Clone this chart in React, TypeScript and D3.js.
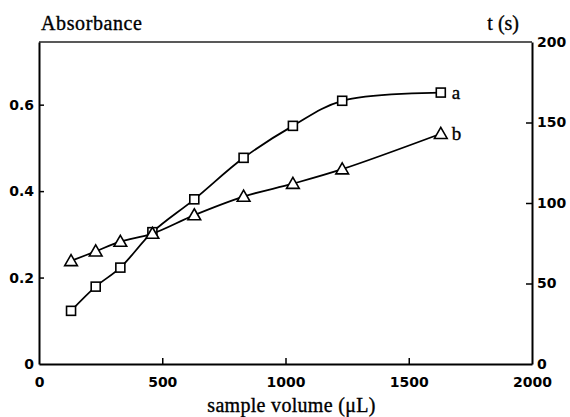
import React, { useRef, useEffect } from "react";
import * as d3 from "d3";

const volumes = [130, 230, 330, 460, 630, 830, 1030, 1230, 1630];
const absorbanceA = [0.123, 0.179, 0.223, 0.305, 0.381, 0.477, 0.551, 0.609, 0.628];
const timeB = [64, 70, 76, 81, 92.5, 104, 112, 121, 143];
const xTicks = [0, 500, 1000, 1500, 2000];
const leftTicks = [0, 0.2, 0.4, 0.6];
const rightTicks = [0, 50, 100, 150, 200];

const App = () => {
  const svgRef = useRef<SVGSVGElement>(null);

  useEffect(() => {
    const svg = d3.select(svgRef.current);
    svg.selectAll("*").remove();

    const margin = { top: 42, right: 38, bottom: 53, left: 39 };
    const width = 570;
    const height = 417;
    const innerWidth = width - margin.left - margin.right;
    const innerHeight = height - margin.top - margin.bottom;

    const x = d3.scaleLinear().domain([0, 2000]).range([0, innerWidth]);
    const yLeft = d3.scaleLinear().domain([0, 0.745]).range([innerHeight, 0]);
    const yRight = d3.scaleLinear().domain([0, 200]).range([innerHeight, 0]);

    const g = svg
      .append("g")
      .attr("transform", `translate(${margin.left}, ${margin.top})`);

    const tickFont = "'DejaVu Sans', Arial, sans-serif";
    const serif = "'Liberation Serif', 'Times New Roman', serif";

    // frame top
    g.append("line")
      .attr("x1", 0).attr("x2", innerWidth).attr("y1", 0).attr("y2", 0)
      .attr("stroke", "#222").attr("stroke-width", 1.5);

    const styleAxis = (sel) => {
      sel.select(".domain").attr("stroke", "#000").attr("stroke-width", 2);
      sel.selectAll(".tick line").attr("stroke", "#000").attr("stroke-width", 1.5);
      sel
        .selectAll(".tick text")
        .attr("font-family", tickFont)
        .attr("font-weight", "bold")
        .attr("font-size", 14)
        .attr("fill", "#000");
    };

    // bottom axis
    g.append("g")
      .attr("transform", `translate(0, ${innerHeight})`)
      .call(
        d3
          .axisBottom(x)
          .tickValues(xTicks)
          .tickFormat(d3.format("d"))
          .tickSize(-6)
          .tickSizeOuter(0)
          .tickPadding(13)
      )
      .call(styleAxis)
      .call((s) => s.selectAll(".tick line").filter((d) => d === 0 || d === 2000).remove());

    // left axis
    g.append("g")
      .call(
        d3
          .axisLeft(yLeft)
          .tickValues(leftTicks)
          .tickFormat((d) => (d === 0 ? "0" : d3.format(".1f")(d)))
          .tickSize(-5)
          .tickSizeOuter(0)
          .tickPadding(5)
      )
      .call(styleAxis)
      .call((s) => s.selectAll(".tick line").filter((d) => d === 0).remove());

    // right axis
    g.append("g")
      .attr("transform", `translate(${innerWidth}, 0)`)
      .call(
        d3.axisRight(yRight).tickValues(rightTicks).tickSize(-6).tickSizeOuter(0).tickPadding(5)
      )
      .call(styleAxis)
      .call((s) =>
        s.selectAll(".tick line").filter((d) => d === 0 || d === 200).remove()
      );

    // curve a (absorbance)
    const lineA = d3
      .line<number>()
      .x((d, i) => x(volumes[i]))
      .y((d) => yLeft(d))
      .curve(d3.curveCatmullRom.alpha(0.5));

    g.append("path")
      .datum(absorbanceA)
      .attr("d", lineA)
      .attr("fill", "none")
      .attr("stroke", "#000")
      .attr("stroke-width", 1.8);

    // curve b (time)
    const lineB = d3
      .line<number>()
      .x((d, i) => x(volumes[i]))
      .y((d) => yRight(d))
      .curve(d3.curveCatmullRom.alpha(0.5));

    g.append("path")
      .datum(timeB)
      .attr("d", lineB)
      .attr("fill", "none")
      .attr("stroke", "#000")
      .attr("stroke-width", 1.8);

    // square markers
    g.selectAll(".sq")
      .data(absorbanceA)
      .enter()
      .append("rect")
      .attr("x", (d, i) => x(volumes[i]) - 4.5)
      .attr("y", (d) => yLeft(d) - 4.5)
      .attr("width", 9)
      .attr("height", 9)
      .attr("fill", "#fff")
      .attr("stroke", "#000")
      .attr("stroke-width", 1.6);

    // triangle markers
    const tri = d3.symbol().type(d3.symbolTriangle).size(70);
    g.selectAll(".tri")
      .data(timeB)
      .enter()
      .append("path")
      .attr("d", tri)
      .attr("transform", (d, i) => `translate(${x(volumes[i])}, ${yRight(d) + 1})`)
      .attr("fill", "#fff")
      .attr("stroke", "#000")
      .attr("stroke-width", 1.6);

    const titleText = (sel) =>
      sel
        .attr("font-family", serif)
        .attr("font-size", 20)
        .attr("fill", "#000")
        .attr("stroke", "#000")
        .attr("stroke-width", 0.35);

    // series labels
    g.append("text")
      .attr("x", x(volumes[volumes.length - 1]) + 11)
      .attr("y", yLeft(absorbanceA[absorbanceA.length - 1]) + 6)
      .call(titleText)
      .attr("font-size", 19)
      .text("a");

    g.append("text")
      .attr("x", x(volumes[volumes.length - 1]) + 11)
      .attr("y", yRight(timeB[timeB.length - 1]) + 6)
      .call(titleText)
      .attr("font-size", 19)
      .text("b");

    // axis titles
    svg.append("text")
      .attr("x", 41)
      .attr("y", 30)
      .call(titleText)
      .attr("letter-spacing", 0.6)
      .text("Absorbance");

    svg.append("text")
      .attr("x", 519)
      .attr("y", 30)
      .attr("text-anchor", "end")
      .call(titleText)
      .text("t (s)");

    svg.append("text")
      .attr("x", margin.left + innerWidth / 2 + 6)
      .attr("y", 412)
      .attr("text-anchor", "middle")
      .call(titleText)
      .attr("letter-spacing", 0.3)
      .text("sample volume (\u03bcL)");
  }, []);

  return (
    <svg
      ref={svgRef}
      width="570"
      height="417"
      style={{ position: "absolute", left: 0, top: 0, background: "#fff" }}
    />
  );
};

export default App;
